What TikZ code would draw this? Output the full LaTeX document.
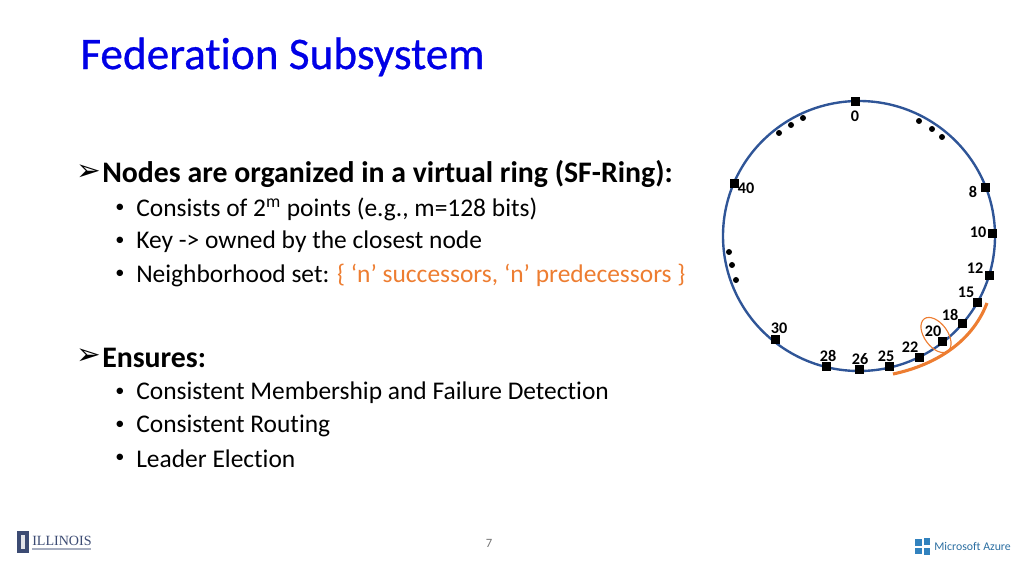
\documentclass[tikz,border=0pt]{standalone}
\usepackage{fontspec}
\setmainfont[Ligatures=CommonOff]{Carlito}
\newfontfamily\titlefont[Ligatures=CommonOff, FakeBold=0.6]{Carlito}
\newfontfamily\symfont{DejaVu Sans}
\newfontfamily\logofont{Liberation Serif}
\usetikzlibrary{positioning, shapes.geometric}
\definecolor{titleblue}{RGB}{0,0,230}
\definecolor{ringblue}{RGB}{47,85,151}
\definecolor{markorange}{RGB}{237,125,49}
\definecolor{logonavy}{RGB}{60,75,115}
\definecolor{azureblue}{RGB}{50,130,190}
\tikzset{
    ringnode/.style={draw=black, fill=black, minimum size=0.2cm, inner sep=0pt},
    ringlabel/.style={inner sep=0pt, font=\fontsize{11.5}{11.5}\selectfont\bfseries},
    gapdot/.style={circle, fill=black, minimum size=0.15cm, inner sep=0pt},
    headitem/.style={anchor=west, inner sep=0pt, font=\fontsize{21.2}{21.2}\selectfont\bfseries},
    subitem/.style={anchor=west, inner sep=0pt, font=\fontsize{18.1}{18.1}\selectfont},
    tipmark/.style={inner sep=0pt, font=\fontsize{21}{21}\selectfont\symfont},
    dotmark/.style={inner sep=0pt, font=\fontsize{13}{13}\selectfont},
    winpane/.style={fill=azureblue, minimum size=0.165cm, inner sep=0pt}
}

\begin{document}
\begin{tikzpicture}[x=0.025cm, y=-0.025cm]
    \useasboundingbox (0,0) rectangle (1024,576);

    % title
    \node[anchor=west, inner sep=0pt, text=titleblue, font=\fontsize{32.2}{32.2}\selectfont\titlefont] (title) at (80,57) {Federation Subsystem};

    % left text
    \node[tipmark] (tipa) at (89,173) {➢};
    \node[headitem] (head) at (102,174) {Nodes are organized in a virtual ring (SF-Ring):};
    \node[dotmark] (dota) at (120,208) {•};
    \node[subitem] (itema) at (136,209) {Consists of 2\textsuperscript{m} points (e.g., m=128 bits)};
    \node[dotmark] (dotb) at (120,241) {•};
    \node[subitem] (itemb) at (136,242) {Key -> owned by the closest node};
    \node[dotmark] (dotc) at (120,274) {•};
    \node[subitem] (itemc) at (136,275) {Neighborhood set: \textcolor{markorange}{\{ ‘n’ successors, ‘n’ predecessors \}}};

    \node[tipmark] (tipb) at (89,357) {➢};
    \node[headitem] (ens) at (102,358) {Ensures:};
    \node[dotmark] (dotd) at (120,392) {•};
    \node[subitem] (itemd) at (136,393) {Consistent Membership and Failure Detection};
    \node[dotmark] (dote) at (120,425) {•};
    \node[subitem] (iteme) at (136,426) {Consistent Routing};
    \node[dotmark] (dotf) at (120,458) {•};
    \node[subitem] (itemf) at (136,459) {Leader Election};

    % ring
    \draw[ringblue, line width=1.7pt] (859,236) ellipse (136 and 135);

    \node[ringnode] (n0) at (855,101) {};
    \node[ringnode] (n8) at (985,187) {};
    \node[ringnode] (n10) at (992,233) {};
    \node[ringnode] (n12) at (989,275) {};
    \node[ringnode] (n15) at (977,302) {};
    \node[ringnode] (n18) at (962,323) {};
    \node[ringnode] (n20) at (942,341) {};
    \node[ringnode] (n22) at (919,357) {};
    \node[ringnode] (n25) at (889,366) {};
    \node[ringnode] (n26) at (859,369) {};
    \node[ringnode] (n28) at (826,366) {};
    \node[ringnode] (n30) at (775,339) {};
    \node[ringnode] (n40) at (734,183) {};

    \node[ringlabel] (l0) at (855,116) {0};
    \node[ringlabel] (l8) at (973,192) {8};
    \node[ringlabel] (l10) at (978,232) {10};
    \node[ringlabel] (l12) at (975,268) {12};
    \node[ringlabel] (l15) at (966,292) {15};
    \node[ringlabel] (l18) at (950,315) {18};
    \node[ringlabel] (l20) at (933,331) {20};
    \node[ringlabel] (l22) at (910,347) {22};
    \node[ringlabel] (l25) at (886,356) {25};
    \node[ringlabel] (l26) at (860,359) {26};
    \node[ringlabel] (l28) at (828,356) {28};
    \node[ringlabel] (l30) at (779,328) {30};
    \node[ringlabel] (l40) at (746,188) {40};

    \node[gapdot] (da) at (779,133) {};
    \node[gapdot] (db) at (791,125) {};
    \node[gapdot] (dc) at (803,118) {};
    \node[gapdot] (dd) at (919,121) {};
    \node[gapdot] (de) at (932,129) {};
    \node[gapdot] (df) at (942,137) {};
    \node[gapdot] (dg) at (729,252) {};
    \node[gapdot] (dh) at (732,265) {};
    \node[gapdot] (di) at (736,280) {};

    % neighbourhood marks
    \node[draw=markorange, ellipse, line width=0.8pt, minimum width=1cm, minimum height=0.58cm, inner sep=0pt, rotate=-54] (nbr) at (936,335) {};
    \draw[markorange, line width=2.2pt] (893,374) .. controls (931,366) and (971,345) .. (987,303);

    % page number
    \node[inner sep=0pt, text=black!55, font=\fontsize{9}{9}\selectfont] (page) at (489,543) {7};

    % logos
    \node[draw=logonavy, fill=logonavy, minimum width=0.28cm, minimum height=0.52cm, inner sep=0pt] (illbox) at (23,542) {};
    \node[fill=white!85!logonavy, minimum width=0.1cm, minimum height=0.36cm, inner sep=0pt] (illbar) at (illbox) {};
    \node[anchor=west, inner sep=0pt, text=logonavy, font=\fontsize{10}{10}\selectfont\logofont] (illtext) at (32,541) {ILLINOIS};
    \draw[logonavy!45, line width=1pt] (32,549) -- (91,549);

    \node[winpane] (wa) at (918.5,542.5) {};
    \node[winpane] (wb) at (927,541.5) {};
    \node[winpane] (wc) at (918.5,551) {};
    \node[winpane] (wd) at (927,551.5) {};
    \node[anchor=west, inner sep=0pt, text=azureblue!85!black, font=\fontsize{8.4}{8.4}\selectfont] (msaz) at (934,546) {Microsoft Azure};
\end{tikzpicture}
\end{document}
